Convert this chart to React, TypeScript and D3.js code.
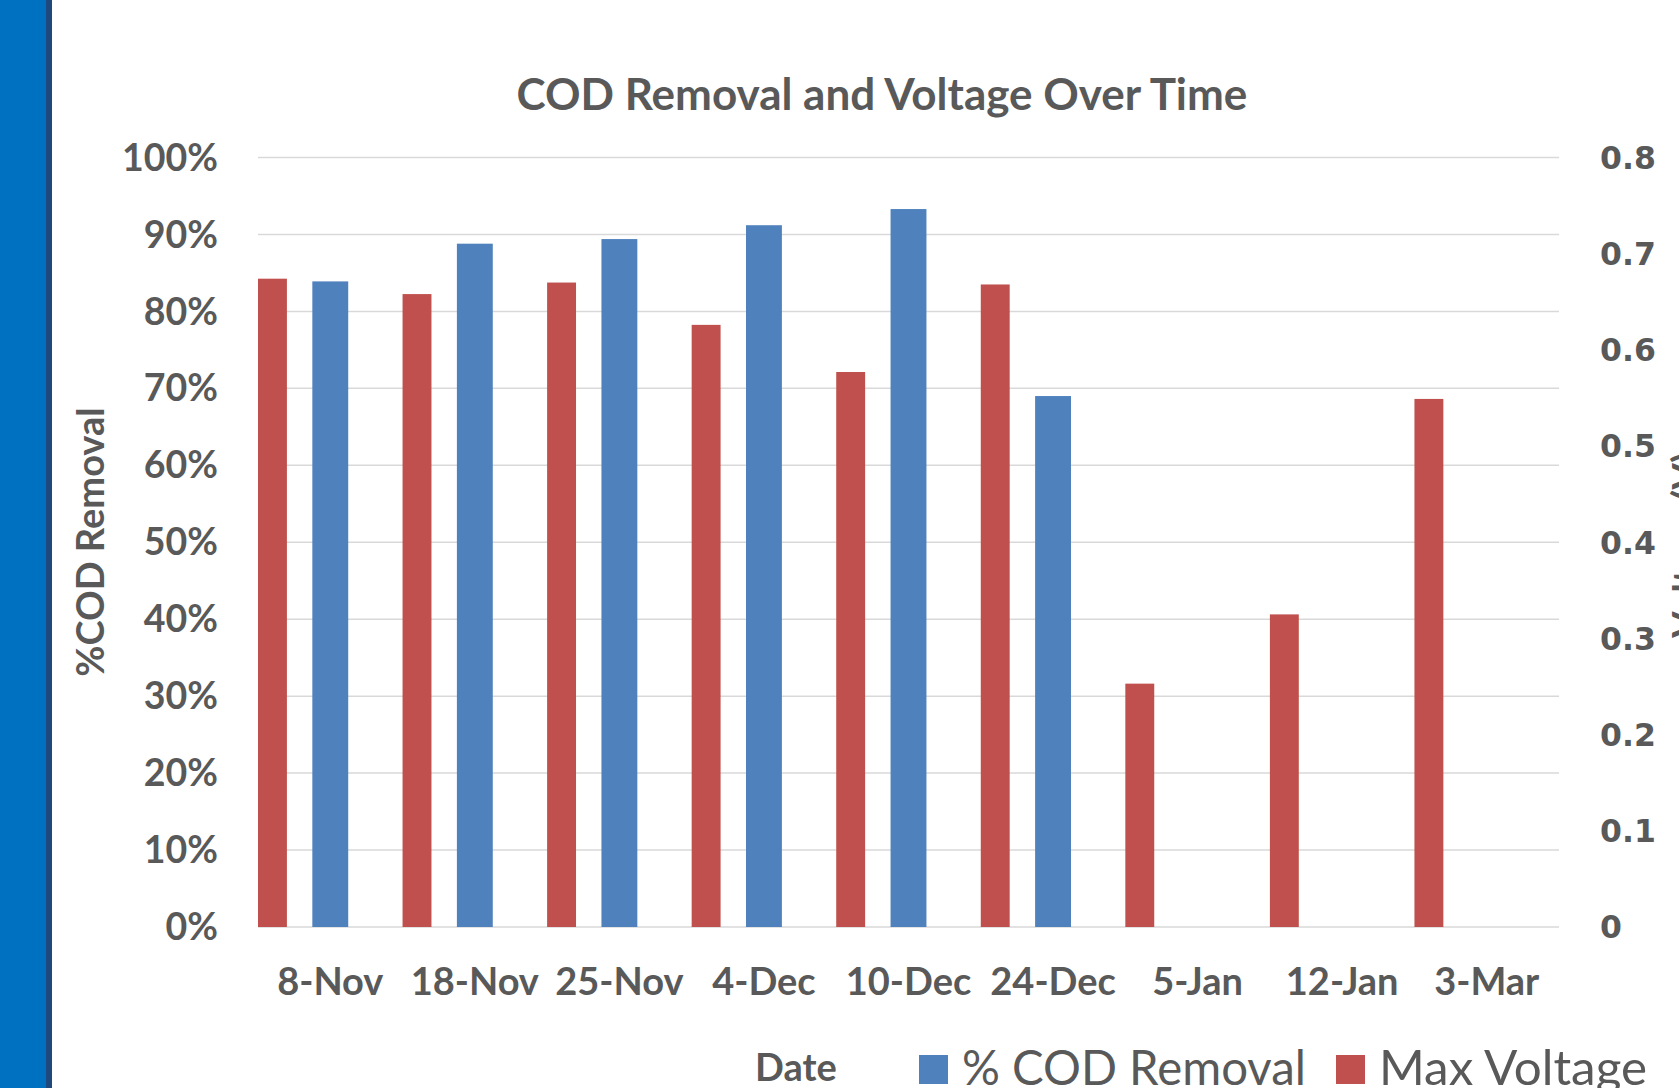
import { useEffect, useRef } from "react";
import * as d3 from "d3";

const dates = ["8-Nov", "18-Nov", "25-Nov", "4-Dec", "10-Dec", "24-Dec", "5-Jan", "12-Jan", "3-Mar"];
const codRemoval = [0.839, 0.888, 0.894, 0.912, 0.933, 0.69, null, null, null];
const maxVoltage = [0.674, 0.658, 0.67, 0.626, 0.577, 0.668, 0.253, 0.325, 0.549];
const leftTicks = [0, 0.1, 0.2, 0.3, 0.4, 0.5, 0.6, 0.7, 0.8, 0.9, 1];
const rightTicks = [0, 0.1, 0.2, 0.3, 0.4, 0.5, 0.6, 0.7, 0.8];

const App = () => {
  const svgRef = useRef<SVGSVGElement>(null);

  useEffect(() => {
    const width = 1679;
    const height = 1088;
    const left = 258;
    const right = 1559;
    const top = 157.5;
    const bottom = 927;
    const textColor = "#595959";

    const svg = d3.select(svgRef.current).attr("width", width).attr("height", height);
    svg.selectAll("*").remove();

    // side strip from the slide
    svg.append("rect").attr("x", 0).attr("y", 0).attr("width", 46).attr("height", height).attr("fill", "#0070C0");
    svg.append("rect").attr("x", 46).attr("y", 0).attr("width", 6).attr("height", height).attr("fill", "#1F497D");

    const x = d3.scaleBand().domain(dates).range([left, right]).paddingInner(0).paddingOuter(0);
    const yLeft = d3.scaleLinear().domain([0, 1]).range([bottom, top]);
    const yRight = d3.scaleLinear().domain([0, 0.8]).range([bottom, top]);
    const bw = x.bandwidth();

    // gridlines
    svg
      .append("g")
      .selectAll("line")
      .data(leftTicks)
      .enter()
      .append("line")
      .attr("x1", left)
      .attr("x2", right)
      .attr("y1", (d) => yLeft(d))
      .attr("y2", (d) => yLeft(d))
      .attr("stroke", "#d9d9d9")
      .attr("stroke-width", 1.5);

    // red bars (secondary axis)
    svg
      .append("g")
      .selectAll("rect")
      .data(maxVoltage)
      .enter()
      .append("rect")
      .attr("x", (d, i) => x(dates[i])!)
      .attr("width", bw * (29 / 145))
      .attr("y", (d) => yRight(d))
      .attr("height", (d) => bottom - yRight(d))
      .attr("fill", "#C0504D");

    // blue bars
    svg
      .append("g")
      .selectAll("rect")
      .data(codRemoval.map((v, i) => ({ v, d: dates[i] })).filter((o) => o.v !== null))
      .enter()
      .append("rect")
      .attr("x", (o) => x(o.d)! + bw * (54.5 / 145))
      .attr("width", bw * (36 / 145))
      .attr("y", (o) => yLeft(o.v as number))
      .attr("height", (o) => bottom - yLeft(o.v as number))
      .attr("fill", "#4F81BD");

    // left tick labels
    svg
      .append("g")
      .selectAll("text")
      .data(leftTicks)
      .enter()
      .append("text")
      .attr("x", 218)
      .attr("y", (d) => yLeft(d))
      .attr("dy", "0.35em")
      .attr("text-anchor", "end")
      .style("font-family", "Lato, sans-serif")
      .style("font-weight", "bold")
      .style("font-size", "37.5px")
      .style("fill", textColor)
      .text((d) => d3.format(".0%")(d));

    // right tick labels
    svg
      .append("g")
      .selectAll("text")
      .data(rightTicks)
      .enter()
      .append("text")
      .attr("x", 1600)
      .attr("y", (d) => yRight(d))
      .attr("dy", "0.36em")
      .attr("text-anchor", "start")
      .style("font-family", "'DejaVu Sans', sans-serif")
      .style("font-weight", "bold")
      .style("font-size", "31.5px")
      .style("fill", textColor)
      .text((d) => (d === 0 ? "0" : d3.format(".1f")(d)));

    // x labels
    svg
      .append("g")
      .selectAll("text")
      .data(dates)
      .enter()
      .append("text")
      .attr("x", (d) => x(d)! + bw / 2)
      .attr("y", 995)
      .attr("text-anchor", "middle")
      .style("font-family", "Lato, sans-serif")
      .style("font-weight", "bold")
      .style("font-size", "38px")
      .style("fill", textColor)
      .text((d) => d);

    // title
    svg
      .append("text")
      .attr("x", 882)
      .attr("y", 110)
      .attr("text-anchor", "middle")
      .style("font-family", "Lato, sans-serif")
      .style("font-weight", "bold")
      .style("font-size", "44px")
      .style("fill", textColor)
      .text("COD Removal and Voltage Over Time");

    // axis titles
    svg
      .append("text")
      .attr("transform", "translate(104,542) rotate(-90)")
      .attr("text-anchor", "middle")
      .style("font-family", "Lato, sans-serif")
      .style("font-weight", "bold")
      .style("font-size", "38px")
      .style("fill", textColor)
      .text("%COD Removal");

    svg
      .append("text")
      .attr("transform", "translate(1700,545) rotate(-90)")
      .attr("text-anchor", "middle")
      .style("font-family", "Lato, sans-serif")
      .style("font-weight", "bold")
      .style("font-size", "38px")
      .style("fill", textColor)
      .text("Voltage (V)");

    svg
      .append("text")
      .attr("x", 755)
      .attr("y", 1081)
      .style("font-family", "Lato, sans-serif")
      .style("font-weight", "bold")
      .style("font-size", "38px")
      .style("fill", textColor)
      .text("Date");

    // legend
    const legend = [
      { name: "% COD Removal", color: "#4F81BD", x: 919, w: 344 },
      { name: "Max Voltage", color: "#C0504D", x: 1336, w: 268 },
    ];
    const lg = svg.append("g").selectAll("g").data(legend).enter().append("g");
    lg.append("rect")
      .attr("x", (d) => d.x)
      .attr("y", 1055)
      .attr("width", 29)
      .attr("height", 29)
      .attr("fill", (d) => d.color);
    lg.append("text")
      .attr("x", (d) => d.x + 43)
      .attr("y", 1085)
      .attr("textLength", (d) => d.w)
      .attr("lengthAdjust", "spacingAndGlyphs")
      .style("font-family", "Lato, sans-serif")
      .style("font-size", "48px")
      .style("fill", textColor)
      .text((d) => d.name);
  }, []);

  return (
    <div style={{ position: "absolute", left: 0, top: 0 }}>
      <svg ref={svgRef} style={{ display: "block" }}></svg>
    </div>
  );
};

export default App;
